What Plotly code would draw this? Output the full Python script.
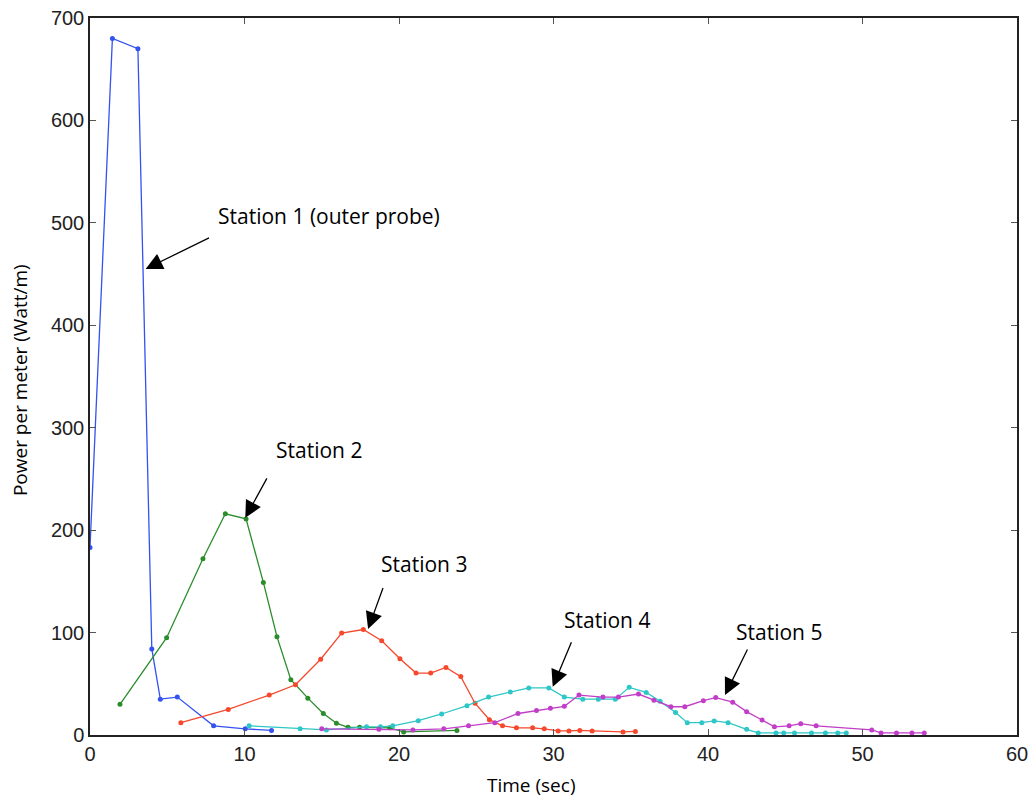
import plotly.graph_objects as go

# ---- data ----
st1_x = [0.0, 1.45, 3.1, 4.0, 4.55, 5.65, 8.0, 10.05, 11.75]
st1_y = [183, 680, 670, 84, 35, 37, 9, 6, 4.5]

st2_x = [1.94, 4.96, 7.31, 8.76, 10.1, 11.22, 12.1, 13.0, 14.1, 15.1, 15.95, 16.7, 17.45, 19.4, 20.3, 23.75]
st2_y = [30, 95, 172, 216, 211, 149, 96, 54, 36, 21, 11.5, 7.5, 7.5, 7, 3, 4.5]

st3_x = [5.88, 8.95, 11.6, 13.3, 14.93, 16.29, 17.69, 18.88, 20.06, 21.1, 22.05, 23.04, 24.0,
         24.92, 25.85, 26.7, 27.6, 28.65, 29.4, 30.3, 31.0, 31.7, 32.5, 34.5, 35.3]
st3_y = [12, 25, 39, 49, 74, 99.5, 103, 92, 74.5, 60.5, 60.5, 66, 57,
         31, 15, 9, 7, 7, 6, 4, 4, 4.5, 4, 3, 3.5]

st4_x = [10.3, 13.6, 15.3, 17.9, 18.8, 19.6, 21.25, 22.76, 24.4, 25.8, 27.2, 28.4, 29.7, 30.7,
         31.9, 32.9, 34.0, 34.9, 36.0, 36.9, 37.9, 38.66, 39.6, 40.4, 41.3, 42.5, 43.25, 44.4,
         44.9, 45.6, 46.7, 47.6, 48.4, 48.95]
st4_y = [9, 6, 5, 8, 8, 9, 14, 20.5, 28.6, 37, 42, 46, 46, 37,
         35, 35, 35, 46.5, 41.6, 33, 22, 12, 12, 13.7, 12, 5.5, 2, 2,
         2, 2, 2, 2, 2, 2]

st5_x = [15.0, 18.7, 20.9, 22.9, 24.5, 26.2, 27.7, 28.9, 29.8, 30.7, 31.65, 33.2, 34.2, 35.5,
         36.5, 37.6, 38.5, 39.7, 40.5, 41.6, 42.5, 43.5, 44.3, 45.25, 46.0, 47.0, 50.6, 51.2,
         52.2, 53.2, 54.0]
st5_y = [6, 5.5, 5, 6, 9, 12, 21, 24, 26, 28, 39, 37, 37, 40,
         34, 27.6, 27.6, 33.5, 36.5, 32, 22.8, 14.6, 8, 9, 11, 9, 5, 2,
         2, 2, 2]

labels = ["Station 1 (outer probe)", "Station 2", "Station 3", "Station 4", "Station 5"]
label_x = [15.47, 14.85, 21.6, 33.46, 44.6]
label_y = [507, 278, 167, 112, 101]
arrow_tip_x = [3.6, 10.05, 18.0, 29.95, 41.1]
arrow_tip_y = [455, 212, 103.5, 47, 39]
arrow_tail_x = [7.8, 11.5, 19.0, 31.2, 42.6]
arrow_tail_y = [486, 252, 145, 92, 85]

x_title = "Time (sec)"
y_title = "Power per meter (Watt/m)"

x_ticks = [0, 10, 20, 30, 40, 50, 60]
y_ticks = [0, 100, 200, 300, 400, 500, 600, 700]

colors = ["#3352ee", "#2b8c2b", "#f5482c", "#2ec6c6", "#c23ec8"]
series = [(st1_x, st1_y), (st2_x, st2_y), (st3_x, st3_y), (st4_x, st4_y), (st5_x, st5_y)]

fig = go.Figure()
for (xs, ys), c, name in zip(series, colors, labels):
    fig.add_trace(go.Scatter(
        x=xs, y=ys, mode="lines+markers", name=name,
        line=dict(color=c, width=1.3),
        marker=dict(color=c, size=5),
        showlegend=False,
    ))

annos = []
for t, lx, ly in zip(labels, label_x, label_y):
    annos.append(dict(x=lx, y=ly, xref="x", yref="y", text=t, showarrow=False,
                      xanchor="center", yanchor="middle",
                      font=dict(family="Open Sans", size=21, color="black")))
for hx, hy, tx, ty in zip(arrow_tip_x, arrow_tip_y, arrow_tail_x, arrow_tail_y):
    annos.append(dict(x=hx, y=hy, xref="x", yref="y", ax=tx, ay=ty, axref="x", ayref="y",
                      text="", showarrow=True, arrowhead=2, arrowsize=2.6,
                      arrowwidth=1.3, arrowcolor="black", standoff=0, startstandoff=0))

# axis titles placed as paper annotations
annos.append(dict(x=0.4768, y=-0.0695, xref="paper", yref="paper", text=x_title,
                  showarrow=False, xanchor="center", yanchor="middle",
                  font=dict(family="Open Sans", size=19, color="black")))
annos.append(dict(x=-0.0755, y=0.495, xref="paper", yref="paper", text=y_title,
                  showarrow=False, xanchor="center", yanchor="middle", textangle=-90,
                  font=dict(family="Open Sans", size=19, color="black")))

axis_common = dict(
    showline=True, linecolor="#222222", linewidth=1.5, mirror="ticks",
    ticks="inside", ticklen=6, tickcolor="#555555", tickwidth=1,
    showgrid=False, zeroline=False, automargin=False,
    tickfont=dict(family="Liberation Sans", size=20, color="#222222"),
)

fig.update_layout(
    width=1031, height=798, autosize=False,
    margin=dict(l=90, r=14, t=18, b=63),
    paper_bgcolor="white", plot_bgcolor="white",
    xaxis=dict(range=[0, 60], tickvals=x_ticks, ticktext=[str(v) for v in x_ticks],
               **axis_common),
    yaxis=dict(range=[0, 700], tickvals=y_ticks, ticktext=[str(v) for v in y_ticks],
               **axis_common),
    annotations=annos,
)

fig.write_html(
    "out.html",
    config={"displayModeBar": False},
    post_script=(
        "document.documentElement.style.margin='0';"
        "document.documentElement.style.overflow='hidden';"
        "document.body.style.margin='0';"
        "document.body.style.overflow='hidden';"
    ),
)
